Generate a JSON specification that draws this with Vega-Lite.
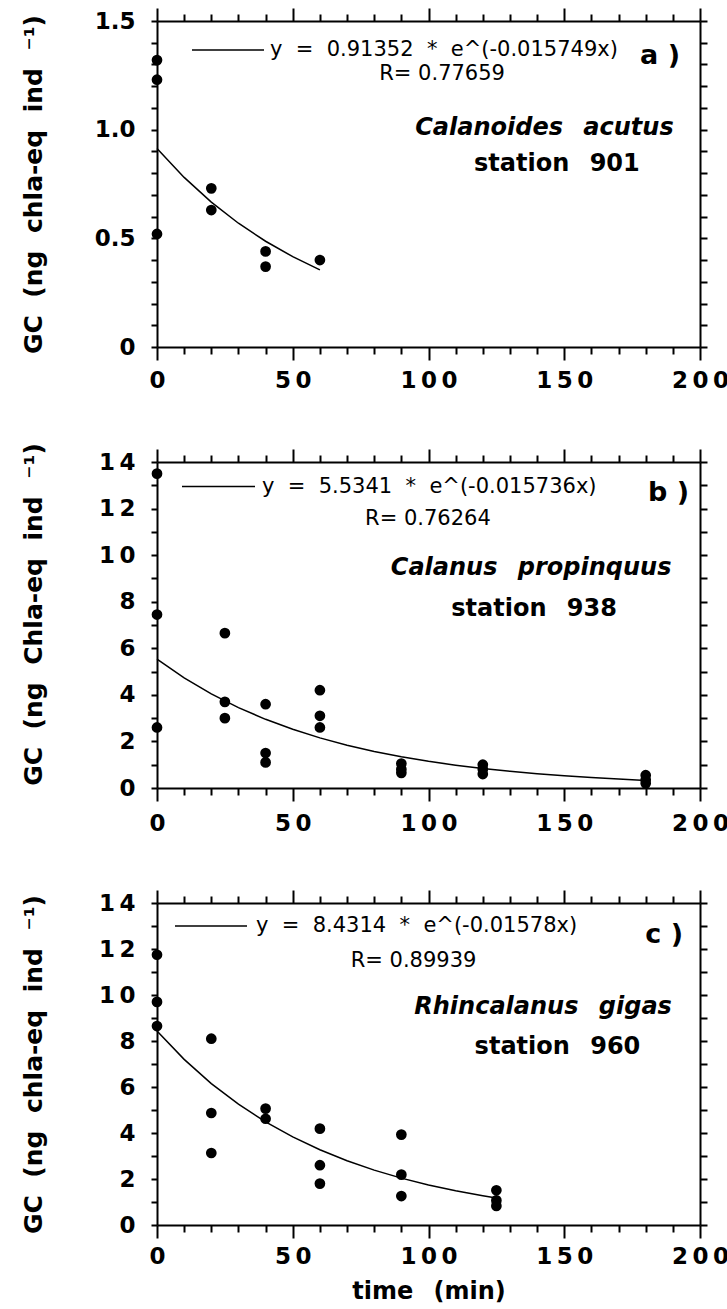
{
  "$schema": "https://vega.github.io/schema/vega-lite/v6.json",
  "background": "white",
  "padding": {"left": 20, "top": 7, "right": 4, "bottom": 4},
  "bounds": "flush",
  "spacing": 115,
  "resolve": {"scale": {"color": "independent"}, "legend": {"color": "independent"}},
  "config": {
    "font": "DejaVu Sans",
    "view": {"stroke": null},
    "axis": {
      "grid": false,
      "domainColor": "black", "domainWidth": 2,
      "tickColor": "black", "tickWidth": 2,
      "labelFont": "DejaVu Sans", "labelFontSize": 23, "labelFontWeight": "bold", "labelColor": "black",
      "labelOverlap": false, "labelFlush": false, "labelBound": false,
      "titleFont": "DejaVu Sans", "titleFontSize": 25, "titleFontWeight": "bold", "titleColor": "black"
    }
  },
  "datasets": {
    "ptsA": [
      {"time": 0, "gc": 1.32}, {"time": 0, "gc": 1.23}, {"time": 0, "gc": 0.52},
      {"time": 20, "gc": 0.73}, {"time": 20, "gc": 0.63},
      {"time": 40, "gc": 0.44}, {"time": 40, "gc": 0.37},
      {"time": 60, "gc": 0.40}
    ],
    "fitA": [
      {"time": 0, "gc": 0.9135, "eq": "y\u00a0\u00a0=\u00a0\u00a00.91352\u00a0\u00a0*\u00a0\u00a0e^(-0.015749x)"},
      {"time": 10, "gc": 0.7804, "eq": "y\u00a0\u00a0=\u00a0\u00a00.91352\u00a0\u00a0*\u00a0\u00a0e^(-0.015749x)"},
      {"time": 20, "gc": 0.6667, "eq": "y\u00a0\u00a0=\u00a0\u00a00.91352\u00a0\u00a0*\u00a0\u00a0e^(-0.015749x)"},
      {"time": 30, "gc": 0.5695, "eq": "y\u00a0\u00a0=\u00a0\u00a00.91352\u00a0\u00a0*\u00a0\u00a0e^(-0.015749x)"},
      {"time": 40, "gc": 0.4866, "eq": "y\u00a0\u00a0=\u00a0\u00a00.91352\u00a0\u00a0*\u00a0\u00a0e^(-0.015749x)"},
      {"time": 50, "gc": 0.4157, "eq": "y\u00a0\u00a0=\u00a0\u00a00.91352\u00a0\u00a0*\u00a0\u00a0e^(-0.015749x)"},
      {"time": 60, "gc": 0.3551, "eq": "y\u00a0\u00a0=\u00a0\u00a00.91352\u00a0\u00a0*\u00a0\u00a0e^(-0.015749x)"}
    ],
    "txtA": [{"time": 105, "gc": 1.256, "label": "R= 0.77659"}],
    "boldA": [{"time": 147.3, "gc": 0.842, "label": "station\u2002\u00a0901"}],
    "letterA": [{"time": 185.3, "gc": 1.339, "label": "a )"}],
    "italA": [{"time": 142.7, "gc": 1.008, "label": "Calanoides\u2002\u00a0acutus"}],
    "ptsB": [
      {"time": 0, "gc": 13.5}, {"time": 0, "gc": 7.45}, {"time": 0, "gc": 2.6},
      {"time": 25, "gc": 6.65}, {"time": 25, "gc": 3.7}, {"time": 25, "gc": 3.0},
      {"time": 40, "gc": 3.6}, {"time": 40, "gc": 1.5}, {"time": 40, "gc": 1.1},
      {"time": 60, "gc": 4.2}, {"time": 60, "gc": 3.1}, {"time": 60, "gc": 2.6},
      {"time": 90, "gc": 1.05}, {"time": 90, "gc": 0.8}, {"time": 90, "gc": 0.65},
      {"time": 120, "gc": 1.0}, {"time": 120, "gc": 0.8}, {"time": 120, "gc": 0.6},
      {"time": 180, "gc": 0.55}, {"time": 180, "gc": 0.35}, {"time": 180, "gc": 0.2}
    ],
    "fitB": [
      {"time": 0, "gc": 5.5341, "eq": "y\u00a0\u00a0=\u00a0\u00a05.5341\u00a0\u00a0*\u00a0\u00a0e^(-0.015736x)"},
      {"time": 10, "gc": 4.7284, "eq": "y\u00a0\u00a0=\u00a0\u00a05.5341\u00a0\u00a0*\u00a0\u00a0e^(-0.015736x)"},
      {"time": 20, "gc": 4.0400, "eq": "y\u00a0\u00a0=\u00a0\u00a05.5341\u00a0\u00a0*\u00a0\u00a0e^(-0.015736x)"},
      {"time": 30, "gc": 3.4518, "eq": "y\u00a0\u00a0=\u00a0\u00a05.5341\u00a0\u00a0*\u00a0\u00a0e^(-0.015736x)"},
      {"time": 40, "gc": 2.9492, "eq": "y\u00a0\u00a0=\u00a0\u00a05.5341\u00a0\u00a0*\u00a0\u00a0e^(-0.015736x)"},
      {"time": 50, "gc": 2.5198, "eq": "y\u00a0\u00a0=\u00a0\u00a05.5341\u00a0\u00a0*\u00a0\u00a0e^(-0.015736x)"},
      {"time": 60, "gc": 2.1529, "eq": "y\u00a0\u00a0=\u00a0\u00a05.5341\u00a0\u00a0*\u00a0\u00a0e^(-0.015736x)"},
      {"time": 70, "gc": 1.8395, "eq": "y\u00a0\u00a0=\u00a0\u00a05.5341\u00a0\u00a0*\u00a0\u00a0e^(-0.015736x)"},
      {"time": 80, "gc": 1.5716, "eq": "y\u00a0\u00a0=\u00a0\u00a05.5341\u00a0\u00a0*\u00a0\u00a0e^(-0.015736x)"},
      {"time": 90, "gc": 1.3428, "eq": "y\u00a0\u00a0=\u00a0\u00a05.5341\u00a0\u00a0*\u00a0\u00a0e^(-0.015736x)"},
      {"time": 100, "gc": 1.1473, "eq": "y\u00a0\u00a0=\u00a0\u00a05.5341\u00a0\u00a0*\u00a0\u00a0e^(-0.015736x)"},
      {"time": 110, "gc": 0.9803, "eq": "y\u00a0\u00a0=\u00a0\u00a05.5341\u00a0\u00a0*\u00a0\u00a0e^(-0.015736x)"},
      {"time": 120, "gc": 0.8375, "eq": "y\u00a0\u00a0=\u00a0\u00a05.5341\u00a0\u00a0*\u00a0\u00a0e^(-0.015736x)"},
      {"time": 130, "gc": 0.7156, "eq": "y\u00a0\u00a0=\u00a0\u00a05.5341\u00a0\u00a0*\u00a0\u00a0e^(-0.015736x)"},
      {"time": 140, "gc": 0.6114, "eq": "y\u00a0\u00a0=\u00a0\u00a05.5341\u00a0\u00a0*\u00a0\u00a0e^(-0.015736x)"},
      {"time": 150, "gc": 0.5224, "eq": "y\u00a0\u00a0=\u00a0\u00a05.5341\u00a0\u00a0*\u00a0\u00a0e^(-0.015736x)"},
      {"time": 160, "gc": 0.4463, "eq": "y\u00a0\u00a0=\u00a0\u00a05.5341\u00a0\u00a0*\u00a0\u00a0e^(-0.015736x)"},
      {"time": 170, "gc": 0.3813, "eq": "y\u00a0\u00a0=\u00a0\u00a05.5341\u00a0\u00a0*\u00a0\u00a0e^(-0.015736x)"},
      {"time": 180, "gc": 0.3258, "eq": "y\u00a0\u00a0=\u00a0\u00a05.5341\u00a0\u00a0*\u00a0\u00a0e^(-0.015736x)"}
    ],
    "txtB": [{"time": 99.8, "gc": 11.57, "label": "R= 0.76264"}],
    "boldB": [{"time": 138.9, "gc": 7.69, "label": "station\u2002\u00a0938"}],
    "letterB": [{"time": 188.4, "gc": 12.67, "label": "b )"}],
    "italB": [{"time": 137.8, "gc": 9.45, "label": "Calanus\u2002\u00a0propinquus"}],
    "ptsC": [
      {"time": 0, "gc": 11.75}, {"time": 0, "gc": 9.7}, {"time": 0, "gc": 8.65},
      {"time": 20, "gc": 8.1}, {"time": 20, "gc": 4.87}, {"time": 20, "gc": 3.13},
      {"time": 40, "gc": 5.06}, {"time": 40, "gc": 4.62},
      {"time": 60, "gc": 4.19}, {"time": 60, "gc": 2.6}, {"time": 60, "gc": 1.8},
      {"time": 90, "gc": 3.93}, {"time": 90, "gc": 2.19}, {"time": 90, "gc": 1.26},
      {"time": 125, "gc": 1.51}, {"time": 125, "gc": 1.07}, {"time": 125, "gc": 0.83}
    ],
    "fitC": [
      {"time": 0, "gc": 8.4314, "eq": "y\u00a0\u00a0=\u00a0\u00a08.4314\u00a0\u00a0*\u00a0\u00a0e^(-0.01578x)"},
      {"time": 10, "gc": 7.2006, "eq": "y\u00a0\u00a0=\u00a0\u00a08.4314\u00a0\u00a0*\u00a0\u00a0e^(-0.01578x)"},
      {"time": 20, "gc": 6.1495, "eq": "y\u00a0\u00a0=\u00a0\u00a08.4314\u00a0\u00a0*\u00a0\u00a0e^(-0.01578x)"},
      {"time": 30, "gc": 5.2518, "eq": "y\u00a0\u00a0=\u00a0\u00a08.4314\u00a0\u00a0*\u00a0\u00a0e^(-0.01578x)"},
      {"time": 40, "gc": 4.4851, "eq": "y\u00a0\u00a0=\u00a0\u00a08.4314\u00a0\u00a0*\u00a0\u00a0e^(-0.01578x)"},
      {"time": 50, "gc": 3.8304, "eq": "y\u00a0\u00a0=\u00a0\u00a08.4314\u00a0\u00a0*\u00a0\u00a0e^(-0.01578x)"},
      {"time": 60, "gc": 3.2712, "eq": "y\u00a0\u00a0=\u00a0\u00a08.4314\u00a0\u00a0*\u00a0\u00a0e^(-0.01578x)"},
      {"time": 70, "gc": 2.7937, "eq": "y\u00a0\u00a0=\u00a0\u00a08.4314\u00a0\u00a0*\u00a0\u00a0e^(-0.01578x)"},
      {"time": 80, "gc": 2.3859, "eq": "y\u00a0\u00a0=\u00a0\u00a08.4314\u00a0\u00a0*\u00a0\u00a0e^(-0.01578x)"},
      {"time": 90, "gc": 2.0376, "eq": "y\u00a0\u00a0=\u00a0\u00a08.4314\u00a0\u00a0*\u00a0\u00a0e^(-0.01578x)"},
      {"time": 100, "gc": 1.7401, "eq": "y\u00a0\u00a0=\u00a0\u00a08.4314\u00a0\u00a0*\u00a0\u00a0e^(-0.01578x)"},
      {"time": 110, "gc": 1.4861, "eq": "y\u00a0\u00a0=\u00a0\u00a08.4314\u00a0\u00a0*\u00a0\u00a0e^(-0.01578x)"},
      {"time": 120, "gc": 1.2692, "eq": "y\u00a0\u00a0=\u00a0\u00a08.4314\u00a0\u00a0*\u00a0\u00a0e^(-0.01578x)"},
      {"time": 125, "gc": 1.1729, "eq": "y\u00a0\u00a0=\u00a0\u00a08.4314\u00a0\u00a0*\u00a0\u00a0e^(-0.01578x)"}
    ],
    "txtC": [{"time": 94.5, "gc": 11.46, "label": "R= 0.89939"}],
    "boldC": [{"time": 147.5, "gc": 7.74, "label": "station\u2002\u00a0960"}],
    "letterC": [{"time": 186.8, "gc": 12.59, "label": "c )"}],
    "italC": [{"time": 142.2, "gc": 9.48, "label": "Rhincalanus\u2002\u00a0gigas"}]
  },
  "vconcat": [
    {
      "width": 543, "height": 326,
      "resolve": {"axis": {"x": "independent", "y": "independent"}},
      "layer": [
        {
          "data": {"name": "ptsA"},
          "mark": {"type": "circle", "size": 115, "color": "black", "opacity": 1},
          "encoding": {
            "x": {"field": "time", "type": "quantitative", "scale": {"domain": [0, 200], "nice": false},
              "axis": {"orient": "bottom", "title": null, "values": [0,10,20,30,40,50,60,70,80,90,100,110,120,130,140,150,160,170,180,190,200],
                "labelExpr": "datum.value % 50 === 0 ? join(split(datum.label, ''), '\u2009') : ''",
                "tickSize": {"condition": {"test": "datum.value % 50 === 0", "value": 13}, "value": 7}, "labelPadding": 9}},
            "y": {"field": "gc", "type": "quantitative", "scale": {"domain": [0, 1.5], "nice": false},
              "axis": {"orient": "left", "values": [0,0.1,0.2,0.3,0.4,0.5,0.6,0.7,0.8,0.9,1.0,1.1,1.2,1.3,1.4,1.5],
                "labelExpr": "abs(datum.value*2 - round(datum.value*2)) < 0.001 ? (datum.value == 0 ? '0' : format(datum.value, '.1f')) : ''",
                "tickSize": 6, "labelPadding": 16,
                "title": "GC\u2002\u2009(ng\u2002\u2009chla-eq\u2002\u2009ind\u2002\u2009\u207b\u00b9)", "titleX": -124, "titleBaseline": "middle"}}
          }
        },
        {
          "data": {"name": "fitA"},
          "mark": {"type": "line", "strokeWidth": 1.5},
          "encoding": {
            "x": {"field": "time", "type": "quantitative",
              "axis": {"orient": "top", "title": null, "labels": false, "values": [0,10,20,30,40,50,60,70,80,90,100,110,120,130,140,150,160,170,180,190,200],
                "tickSize": {"condition": {"test": "datum.value % 50 === 0", "value": 13}, "value": 7}}},
            "y": {"field": "gc", "type": "quantitative",
              "axis": {"orient": "right", "title": null, "labels": false, "values": [0,0.1,0.2,0.3,0.4,0.5,0.6,0.7,0.8,0.9,1.0,1.1,1.2,1.3,1.4,1.5], "tickSize": 7}},
            "color": {"field": "eq", "type": "nominal", "scale": {"range": ["black"]},
              "legend": {"orient": "none", "legendX": 34, "legendY": -8, "title": null, "symbolType": "stroke", "symbolSize": 5184,
                "symbolStrokeWidth": 1.5, "labelFont": "DejaVu Sans", "labelFontSize": 21, "labelColor": "black", "labelLimit": 1000, "labelOffset": 5, "padding": 0}}
          }
        },
        {
          "data": {"name": "txtA"},
          "mark": {"type": "text", "font": "DejaVu Sans", "fontSize": 21, "color": "black", "align": "center", "baseline": "middle"},
          "encoding": {"x": {"field": "time", "type": "quantitative", "axis": null}, "y": {"field": "gc", "type": "quantitative", "axis": null}, "text": {"field": "label"}}
        },
        {
          "data": {"name": "boldA"},
          "mark": {"type": "text", "font": "DejaVu Sans", "fontSize": 24, "fontWeight": "bold", "color": "black", "align": "center", "baseline": "middle"},
          "encoding": {"x": {"field": "time", "type": "quantitative", "axis": null}, "y": {"field": "gc", "type": "quantitative", "axis": null}, "text": {"field": "label"}}
        },
        {
          "data": {"name": "letterA"},
          "mark": {"type": "text", "font": "DejaVu Sans", "fontSize": 27, "fontWeight": "bold", "color": "black", "align": "center", "baseline": "middle"},
          "encoding": {"x": {"field": "time", "type": "quantitative", "axis": null}, "y": {"field": "gc", "type": "quantitative", "axis": null}, "text": {"field": "label"}}
        },
        {
          "data": {"name": "italA"},
          "mark": {"type": "text", "font": "DejaVu Sans", "fontSize": 24, "fontWeight": "bold", "fontStyle": "italic", "color": "black", "align": "center", "baseline": "middle"},
          "encoding": {"x": {"field": "time", "type": "quantitative", "axis": null}, "y": {"field": "gc", "type": "quantitative", "axis": null}, "text": {"field": "label"}}
        }
      ]
    },
    {
      "width": 543, "height": 326,
      "resolve": {"axis": {"x": "independent", "y": "independent"}},
      "layer": [
        {
          "data": {"name": "ptsB"},
          "mark": {"type": "circle", "size": 115, "color": "black", "opacity": 1},
          "encoding": {
            "x": {"field": "time", "type": "quantitative", "scale": {"domain": [0, 200], "nice": false},
              "axis": {"orient": "bottom", "title": null, "values": [0,10,20,30,40,50,60,70,80,90,100,110,120,130,140,150,160,170,180,190,200],
                "labelExpr": "datum.value % 50 === 0 ? join(split(datum.label, ''), '\u2009') : ''",
                "tickSize": {"condition": {"test": "datum.value % 50 === 0", "value": 13}, "value": 7}, "labelPadding": 11}},
            "y": {"field": "gc", "type": "quantitative", "scale": {"domain": [0, 14], "nice": false},
              "axis": {"orient": "left", "values": [0,1,2,3,4,5,6,7,8,9,10,11,12,13,14],
                "labelExpr": "datum.value % 2 === 0 ? join(split(datum.label, ''), '\u2009') : ''",
                "tickSize": 6, "labelPadding": 16,
                "title": "GC\u2002\u2009(ng\u2002\u2009Chla-eq\u2002\u2009ind\u2002\u2009\u207b\u00b9)", "titleX": -124, "titleY": 152, "titleBaseline": "middle"}}
          }
        },
        {
          "data": {"name": "fitB"},
          "mark": {"type": "line", "strokeWidth": 1.5},
          "encoding": {
            "x": {"field": "time", "type": "quantitative",
              "axis": {"orient": "top", "title": null, "labels": false, "values": [0,10,20,30,40,50,60,70,80,90,100,110,120,130,140,150,160,170,180,190,200],
                "tickSize": {"condition": {"test": "datum.value % 50 === 0", "value": 13}, "value": 7}}},
            "y": {"field": "gc", "type": "quantitative",
              "axis": {"orient": "right", "title": null, "labels": false, "values": [0,1,2,3,4,5,6,7,8,9,10,11,12,13,14], "tickSize": 7}},
            "color": {"field": "eq", "type": "nominal", "scale": {"range": ["black"]},
              "legend": {"orient": "none", "legendX": 24, "legendY": -13, "title": null, "symbolType": "stroke", "symbolSize": 5329,
                "symbolStrokeWidth": 1.5, "labelFont": "DejaVu Sans", "labelFontSize": 21, "labelColor": "black", "labelLimit": 1000, "labelOffset": 6, "padding": 0}}
          }
        },
        {
          "data": {"name": "txtB"},
          "mark": {"type": "text", "font": "DejaVu Sans", "fontSize": 21, "color": "black", "align": "center", "baseline": "middle"},
          "encoding": {"x": {"field": "time", "type": "quantitative", "axis": null}, "y": {"field": "gc", "type": "quantitative", "axis": null}, "text": {"field": "label"}}
        },
        {
          "data": {"name": "boldB"},
          "mark": {"type": "text", "font": "DejaVu Sans", "fontSize": 24, "fontWeight": "bold", "color": "black", "align": "center", "baseline": "middle"},
          "encoding": {"x": {"field": "time", "type": "quantitative", "axis": null}, "y": {"field": "gc", "type": "quantitative", "axis": null}, "text": {"field": "label"}}
        },
        {
          "data": {"name": "letterB"},
          "mark": {"type": "text", "font": "DejaVu Sans", "fontSize": 27, "fontWeight": "bold", "color": "black", "align": "center", "baseline": "middle"},
          "encoding": {"x": {"field": "time", "type": "quantitative", "axis": null}, "y": {"field": "gc", "type": "quantitative", "axis": null}, "text": {"field": "label"}}
        },
        {
          "data": {"name": "italB"},
          "mark": {"type": "text", "font": "DejaVu Sans", "fontSize": 24, "fontWeight": "bold", "fontStyle": "italic", "color": "black", "align": "center", "baseline": "middle"},
          "encoding": {"x": {"field": "time", "type": "quantitative", "axis": null}, "y": {"field": "gc", "type": "quantitative", "axis": null}, "text": {"field": "label"}}
        }
      ]
    },
    {
      "width": 543, "height": 322,
      "resolve": {"axis": {"x": "independent", "y": "independent"}},
      "layer": [
        {
          "data": {"name": "ptsC"},
          "mark": {"type": "circle", "size": 115, "color": "black", "opacity": 1},
          "encoding": {
            "x": {"field": "time", "type": "quantitative", "scale": {"domain": [0, 200], "nice": false},
              "axis": {"orient": "bottom", "values": [0,10,20,30,40,50,60,70,80,90,100,110,120,130,140,150,160,170,180,190,200],
                "labelExpr": "datum.value % 50 === 0 ? join(split(datum.label, ''), '\u2009') : ''",
                "tickSize": {"condition": {"test": "datum.value % 50 === 0", "value": 13}, "value": 7}, "labelPadding": 7,
                "title": "time\u2002\u00a0(min)", "titleFontSize": 24, "titleY": 66, "titleBaseline": "middle"}},
            "y": {"field": "gc", "type": "quantitative", "scale": {"domain": [0, 14], "nice": false},
              "axis": {"orient": "left", "values": [0,1,2,3,4,5,6,7,8,9,10,11,12,13,14],
                "labelExpr": "datum.value % 2 === 0 ? join(split(datum.label, ''), '\u2009') : ''",
                "tickSize": 6, "labelPadding": 16,
                "title": "GC\u2002\u2009(ng\u2002\u2009chla-eq\u2002\u2009ind\u2002\u2009\u207b\u00b9)", "titleX": -124, "titleBaseline": "middle"}}
          }
        },
        {
          "data": {"name": "fitC"},
          "mark": {"type": "line", "strokeWidth": 1.5},
          "encoding": {
            "x": {"field": "time", "type": "quantitative",
              "axis": {"orient": "top", "title": null, "labels": false, "values": [0,10,20,30,40,50,60,70,80,90,100,110,120,130,140,150,160,170,180,190,200],
                "tickSize": {"condition": {"test": "datum.value % 50 === 0", "value": 13}, "value": 7}}},
            "y": {"field": "gc", "type": "quantitative",
              "axis": {"orient": "right", "title": null, "labels": false, "values": [0,1,2,3,4,5,6,7,8,9,10,11,12,13,14], "tickSize": 7}},
            "color": {"field": "eq", "type": "nominal", "scale": {"range": ["black"]},
              "legend": {"orient": "none", "legendX": 17, "legendY": -14, "title": null, "symbolType": "stroke", "symbolSize": 5184,
                "symbolStrokeWidth": 1.5, "labelFont": "DejaVu Sans", "labelFontSize": 21, "labelColor": "black", "labelLimit": 1000, "labelOffset": 8, "padding": 0}}
          }
        },
        {
          "data": {"name": "txtC"},
          "mark": {"type": "text", "font": "DejaVu Sans", "fontSize": 21, "color": "black", "align": "center", "baseline": "middle"},
          "encoding": {"x": {"field": "time", "type": "quantitative", "axis": null}, "y": {"field": "gc", "type": "quantitative", "axis": null}, "text": {"field": "label"}}
        },
        {
          "data": {"name": "boldC"},
          "mark": {"type": "text", "font": "DejaVu Sans", "fontSize": 24, "fontWeight": "bold", "color": "black", "align": "center", "baseline": "middle"},
          "encoding": {"x": {"field": "time", "type": "quantitative", "axis": null}, "y": {"field": "gc", "type": "quantitative", "axis": null}, "text": {"field": "label"}}
        },
        {
          "data": {"name": "letterC"},
          "mark": {"type": "text", "font": "DejaVu Sans", "fontSize": 27, "fontWeight": "bold", "color": "black", "align": "center", "baseline": "middle"},
          "encoding": {"x": {"field": "time", "type": "quantitative", "axis": null}, "y": {"field": "gc", "type": "quantitative", "axis": null}, "text": {"field": "label"}}
        },
        {
          "data": {"name": "italC"},
          "mark": {"type": "text", "font": "DejaVu Sans", "fontSize": 24, "fontWeight": "bold", "fontStyle": "italic", "color": "black", "align": "center", "baseline": "middle"},
          "encoding": {"x": {"field": "time", "type": "quantitative", "axis": null}, "y": {"field": "gc", "type": "quantitative", "axis": null}, "text": {"field": "label"}}
        }
      ]
    }
  ]
}
